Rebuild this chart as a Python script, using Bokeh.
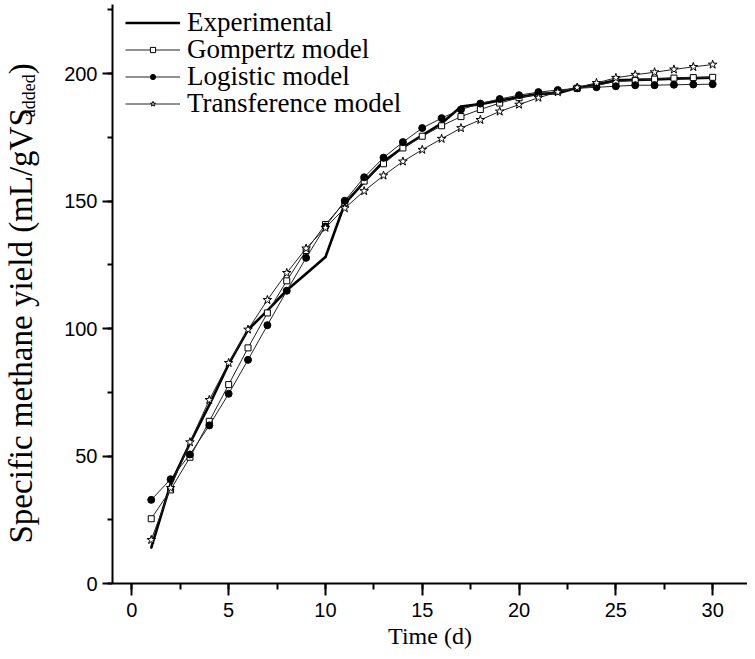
import math
from bokeh.plotting import figure
from bokeh.layouts import row
from bokeh.models import Range1d, SingleIntervalTicker, Legend, LegendItem
from bokeh.core.properties import value
from bokeh.embed import file_html
from bokeh.resources import INLINE

# ---- data ----
days = list(range(1, 31))
experimental = [14.0, 39.0, 55.0, 70.0, 86.0, 99.5, 107.0, 115.0, 121.5, 128.0,
                149.0, 157.5, 165.5, 171.0, 175.7, 180.5, 187.0, 188.0, 189.4, 190.7,
                192.0, 192.3, 194.4, 195.7, 197.3, 197.5, 197.7, 198.0, 198.2, 198.4]
gompertz = [25.4, 36.7, 49.5, 63.6, 78.0, 92.4, 106.1, 118.7, 130.6, 140.8,
            149.5, 157.8, 164.6, 170.8, 175.4, 179.5, 183.1, 185.9, 188.4, 190.5,
            191.8, 193.0, 194.2, 195.3, 196.9, 197.3, 197.8, 198.2, 198.4, 198.5]
logistic = [32.8, 40.9, 50.6, 62.0, 74.4, 87.7, 101.3, 114.8, 127.7, 140.0,
            150.1, 159.3, 167.0, 173.1, 178.6, 182.5, 185.9, 188.2, 190.0, 191.5,
            192.7, 193.5, 194.2, 194.6, 195.0, 195.4, 195.4, 195.6, 195.7, 195.8]
transference = [17.1, 37.5, 55.4, 72.0, 86.5, 99.6, 111.2, 121.8, 131.4, 139.5,
                147.2, 153.9, 160.0, 165.5, 170.1, 174.4, 178.6, 181.8, 185.1, 187.8,
                190.5, 192.7, 194.5, 196.3, 198.3, 199.5, 200.5, 201.6, 202.6, 203.5]
series_names = ["Experimental", "Gompertz model", "Logistic model", "Transference model"]
x_label = "Time (d)"
y_label_main = "Specific methane yield (mL/gVS"
y_label_sub = "added"
y_label_end = ")"

SERIF = "Liberation Serif"
SANS = "Liberation Sans"

TOTAL_W, TOTAL_H = 747, 651
YLAB_W = 40
FRAME_TOP, FRAME_BOTTOM = 4, 583
PX_PER_UNIT = 2.55
Y_MAX = (FRAME_BOTTOM - FRAME_TOP) / PX_PER_UNIT
frame_h = FRAME_BOTTOM - FRAME_TOP

p = figure(width=TOTAL_W - YLAB_W, height=TOTAL_H,
           x_range=Range1d(-1.0, 31.8), y_range=Range1d(0, Y_MAX),
           output_backend="svg", toolbar_location=None,
           min_border_left=112 - YLAB_W, min_border_right=0,
           min_border_top=FRAME_TOP, min_border_bottom=TOTAL_H - FRAME_BOTTOM)
p.xgrid.visible = False
p.ygrid.visible = False
p.outline_line_color = None
p.background_fill_color = "white"
p.border_fill_color = "white"

p.xaxis.ticker = SingleIntervalTicker(interval=5, num_minor_ticks=2)
p.yaxis.ticker = SingleIntervalTicker(interval=50, num_minor_ticks=2)
for ax, tick_out, minor_out, standoff in ((p.xaxis, 12, 6, 7), (p.yaxis, 10, 5, 5)):
    ax.axis_line_width = 2
    ax.axis_line_color = "black"
    ax.major_tick_line_width = 2
    ax.minor_tick_line_width = 2
    ax.major_tick_line_color = "black"
    ax.minor_tick_line_color = "black"
    ax.major_tick_in = 0
    ax.minor_tick_in = 0
    ax.major_tick_out = tick_out
    ax.minor_tick_out = minor_out
    ax.major_label_text_font = SANS
    ax.major_label_text_font_size = "20px"
    ax.major_label_text_color = "black"
    ax.major_label_standoff = standoff

p.xaxis.axis_label = x_label
p.xaxis.axis_label_text_font = SERIF
p.xaxis.axis_label_text_font_size = "24px"
p.xaxis.axis_label_text_font_style = "normal"
p.xaxis.axis_label_text_color = "black"
p.xaxis.axis_label_standoff = 3

# ---- series ----
exp_line = p.line(days, experimental, line_width=2.6, line_color="black")
exp_dot = p.scatter(days, experimental, marker="dot", size=9, color="black")

gom_line = p.line(days, gompertz, line_width=1, line_color="#222222")
gom_pts = p.scatter(days, gompertz, marker="square", size=6,
                    fill_color="white", line_color="black", line_width=1)

log_line = p.line(days, logistic, line_width=1, line_color="#222222")
log_pts = p.scatter(days, logistic, marker="circle", size=7,
                    fill_color="black", line_color="black")

tra_line = p.line(days, transference, line_width=1, line_color="#222222")
tra_pts = p.scatter(days, transference, marker="star", size=9,
                    fill_color="white", line_color="black", line_width=1)

# one single-item legend per row, so that the row pitch matches the reference
row_h = 30
row_pitch = 27
first_center = 23 - FRAME_TOP
pairs = [(exp_line, exp_dot), (gom_line, gom_pts), (log_line, log_pts), (tra_line, tra_pts)]
for i, (name, rends) in enumerate(zip(series_names, pairs)):
    center = first_center + i * row_pitch
    lg = Legend(items=[LegendItem(label=name, renderers=list(rends))],
                location=(13, frame_h - center - row_h / 2),
                label_text_font=SERIF, label_text_font_size="27px",
                label_text_color="black", glyph_width=55, glyph_height=13,
                label_height=row_h, label_standoff=7, spacing=0, padding=0, margin=0,
                border_line_color=None, background_fill_alpha=0)
    p.add_layout(lg)

# ---- y-axis title (with subscript) drawn in a narrow side figure ----
# its data units are screen pixels (x from the left, y up from the frame bottom)
ylab = figure(width=YLAB_W, height=TOTAL_H, x_range=Range1d(0, YLAB_W),
              y_range=Range1d(0, frame_h),
              x_axis_type=None, y_axis_type=None, output_backend="svg",
              toolbar_location=None, min_border=0, min_border_left=0,
              min_border_right=0, min_border_top=FRAME_TOP,
              min_border_bottom=TOTAL_H - FRAME_BOTTOM)
ylab.outline_line_color = None
ylab.xgrid.visible = False
ylab.ygrid.visible = False
ylab.background_fill_color = "white"
ylab.border_fill_color = "white"

TIMES_W = {"S": .556, "p": .5, "e": .444, "c": .444, "i": .278, "f": .333, " ": .25,
           "m": .778, "t": .278, "h": .5, "a": .444, "n": .5, "y": .5, "l": .278,
           "d": .5, "(": .333, "L": .611, "/": .278, "g": .5, "V": .722, ")": .333}

def text_len(s, size):
    return sum(TIMES_W.get(ch, .5) for ch in s) * size * 0.977

main_size, sub_size = 33, 18
y0 = FRAME_BOTTOM - 543
lx = 20
y1 = y0 + text_len(y_label_main, main_size) + 1
y2 = y1 + text_len(y_label_sub, sub_size) + 1

def vtext(x, y, txt, size):
    ylab.text(x=[x], y=[y], text=[txt], angle=math.pi / 2,
              text_align="left", text_baseline="middle",
              text_font=value(SERIF), text_font_size=f"{size}px", text_color="black")

vtext(lx, y0, y_label_main, main_size)
vtext(lx + 8, y1, y_label_sub, sub_size)
vtext(lx, y2, y_label_end, main_size)

layout = row(ylab, p)
open("out.html", "w").write(file_html(layout, INLINE))
